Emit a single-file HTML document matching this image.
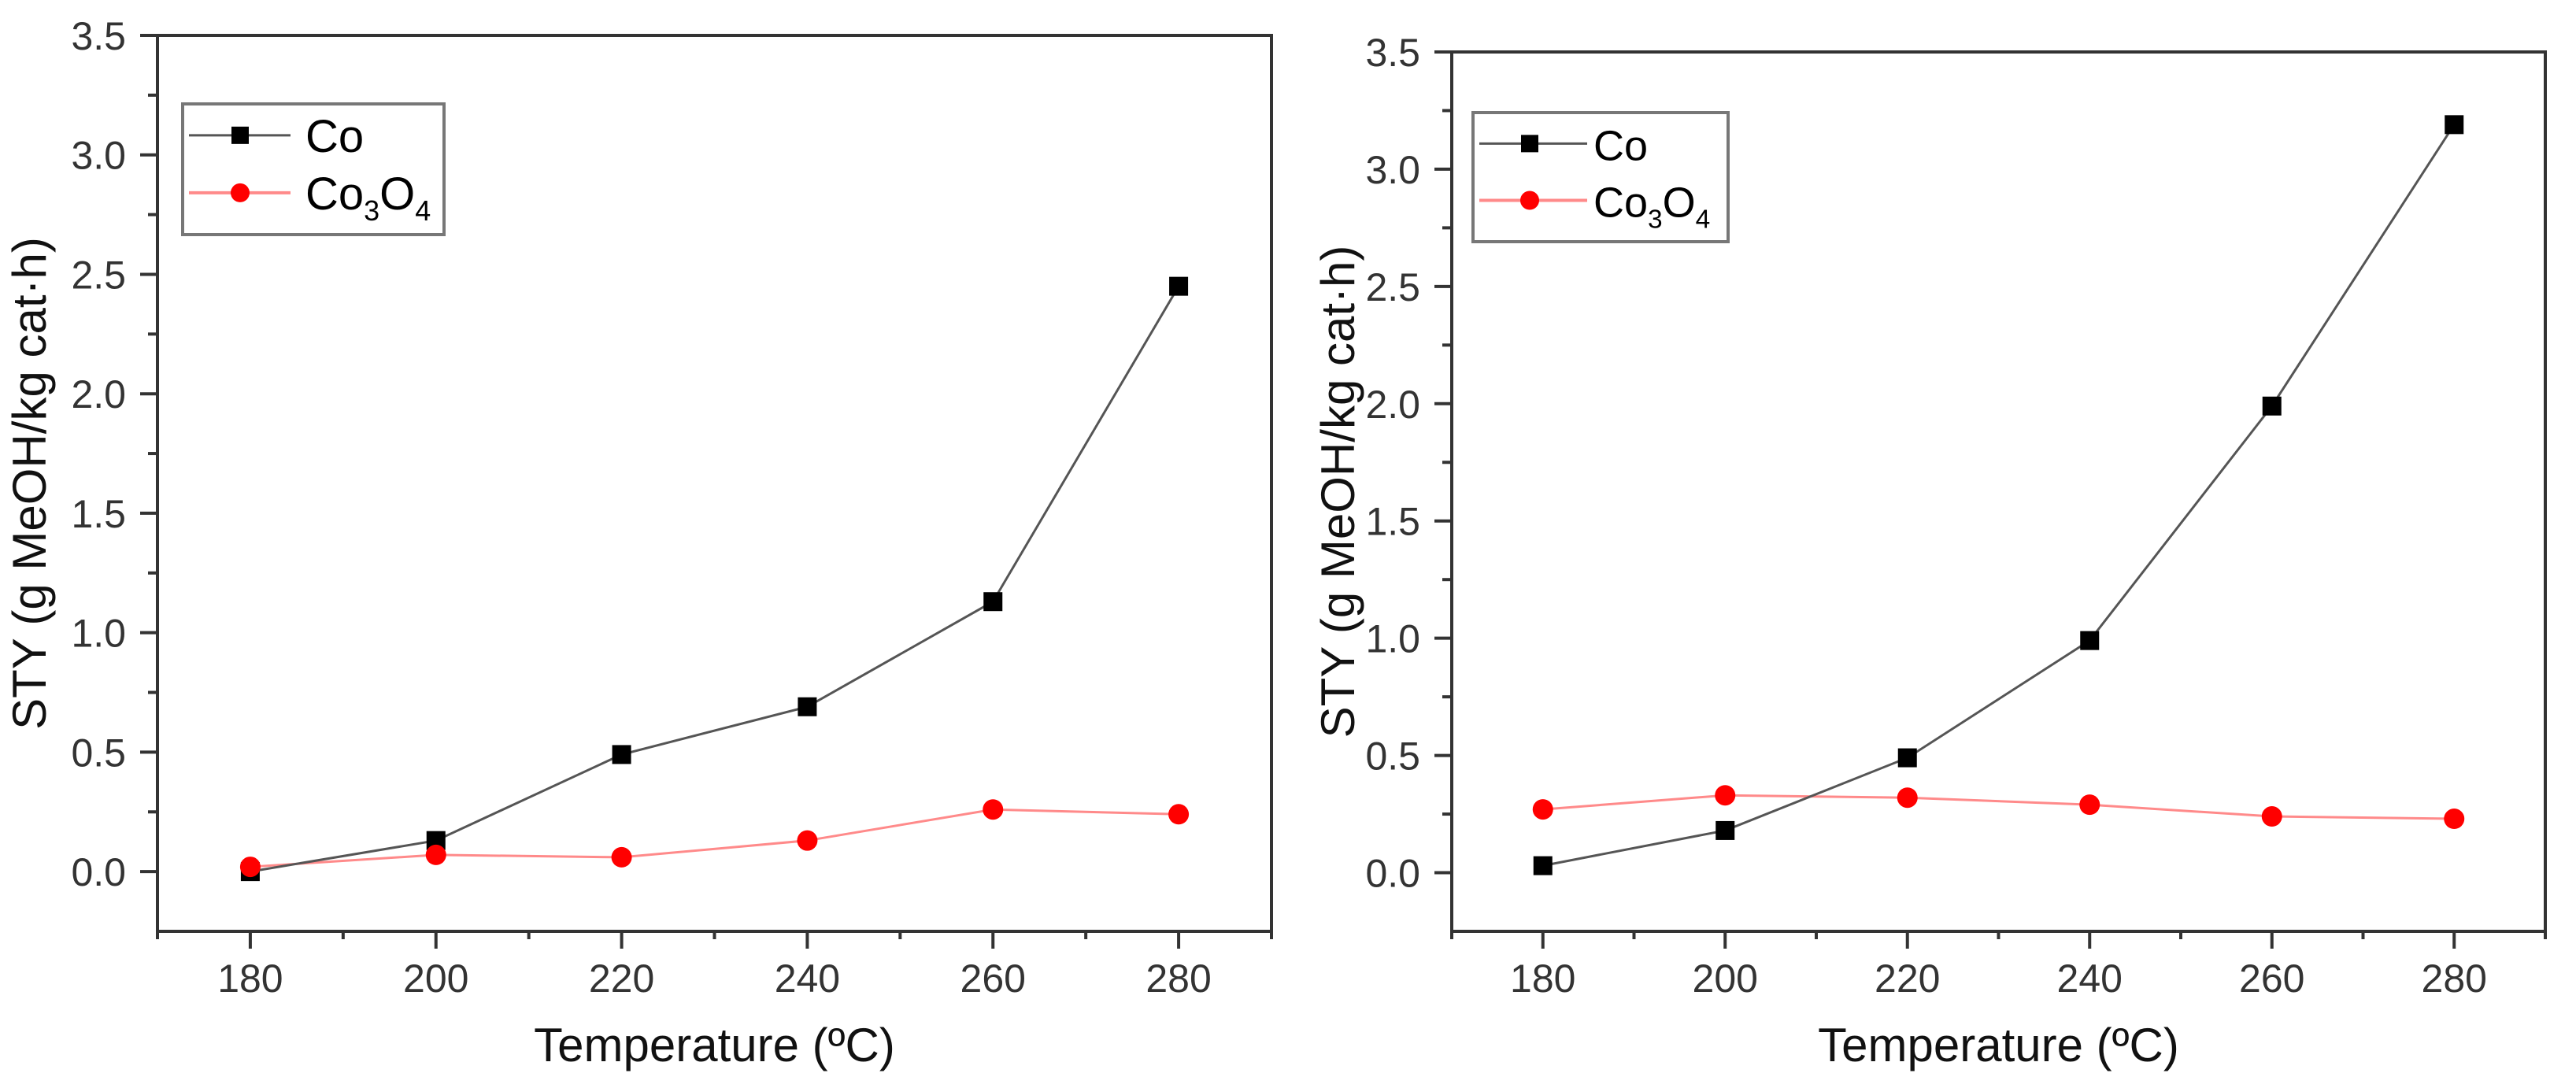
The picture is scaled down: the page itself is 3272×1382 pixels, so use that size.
<!DOCTYPE html>
<html><head><meta charset="utf-8"><style>
html,body{margin:0;padding:0;background:#fff;}
svg{display:block;font-family:"Liberation Sans",Arial,sans-serif;}
</style></head><body>
<svg id="chart" width="3272" height="1382" viewBox="0 0 3272 1382" xmlns="http://www.w3.org/2000/svg"></svg>
<script>
const temps = [180, 200, 220, 240, 260, 280];
const leftCo = [0.0, 0.13, 0.49, 0.69, 1.13, 2.45];
const leftCo3O4 = [0.02, 0.07, 0.06, 0.13, 0.26, 0.24];
const rightCo = [0.03, 0.18, 0.49, 0.99, 1.99, 3.19];
const rightCo3O4 = [0.27, 0.33, 0.32, 0.29, 0.24, 0.23];
const yTicks = ["0.0","0.5","1.0","1.5","2.0","2.5","3.0","3.5"];
const xTicks = ["180","200","220","240","260","280"];

const NS = "http://www.w3.org/2000/svg";
const svg = document.getElementById('chart');
function mk(tag, attrs, parent){
  const e = document.createElementNS(NS, tag);
  for (const k in attrs) e.setAttribute(k, attrs[k]);
  (parent||svg).appendChild(e);
  return e;
}

function panel(id, L, R, T, B, co, coo, leg, ytitleX){
  const g = mk('g', {});
  
  
  const xmin=170, xmax=290, ymin=-0.25, ymax=3.5;
  const sx = v => L + (v - xmin) / (xmax - xmin) * (R - L);
  const sy = v => B - (v - ymin) / (ymax - ymin) * (B - T);
  // ticks y
  for (let v = 0; v <= 3.5001; v += 0.25) {
    const major = Math.abs(v*2 - Math.round(v*2)) < 1e-6;
    const t = mk('line', {x1:L-(major?22:12), x2:L, y1:sy(v), y2:sy(v), stroke:'#333', 'stroke-width':4}, g);
    
    
  }
  yTicks.forEach(s => {
    const t = mk('text', {x:L-40, y:sy(parseFloat(s))+18, 'font-size':50, fill:'#333', 'text-anchor':'end'}, g);
    t.textContent = s;
    
    
  });
  // ticks x
  for (let v = 170; v <= 290; v += 10) {
    const major = (v - 180) % 20 === 0;
    const t = mk('line', {x1:sx(v), x2:sx(v), y1:B, y2:B+(major?22:10), stroke:'#333', 'stroke-width':4}, g);
    
    
  }
  xTicks.forEach(s => {
    const t = mk('text', {x:sx(parseFloat(s)), y:B+77, 'font-size':50, fill:'#333', 'text-anchor':'middle'}, g);
    t.textContent = s;
    
    
  });
  // frame
  const f = mk('rect', {x:L, y:T, width:R-L, height:B-T, fill:'none', stroke:'#333', 'stroke-width':4}, g);
  
  
  // titles
  const xt = mk('text', {x:(L+R)/2, y:B+165, 'font-size':60, fill:'#111', 'text-anchor':'middle'}, g);
  xt.textContent = 'Temperature (ºC)';
  
  
  const yt = mk('text', {x:0, y:0, 'font-size':60, fill:'#111', 'text-anchor':'middle', transform:`translate(${ytitleX},${(T+B)/2}) rotate(-90)`}, g);
  yt.textContent = 'STY (g MeOH/kg cat·h)';
  
  
  // series
  const pts = arr => arr.map((v,i) => sx(temps[i]) + ',' + sy(v)).join(' ');
  const l1 = mk('polyline', {points:pts(coo), fill:'none', stroke:'#ff8a8a', 'stroke-width':3}, g);
  
  
  const l2 = mk('polyline', {points:pts(co), fill:'none', stroke:'#555', 'stroke-width':3}, g);
  
  
  co.forEach((v,i) => {
    const m = mk('rect', {x:sx(temps[i])-12, y:sy(v)-12, width:24, height:24, fill:'#000'}, g);
    
    
  });
  coo.forEach((v,i) => {
    const m = mk('circle', {cx:sx(temps[i]), cy:sy(v), r:13, fill:'#ff0000'}, g);
    
    
  });
  // legend
  const lg = mk('g', {}, g);
  
  
  const lb = mk('rect', {x:leg.x, y:leg.y, width:leg.w, height:leg.h, fill:'#fff', stroke:'#777', 'stroke-width':4}, lg);
  
  
  const r1 = leg.y + leg.h*0.24, r2 = leg.y + leg.h*0.68;
  const e1 = mk('line', {x1:leg.x+8, x2:leg.x+leg.lw, y1:r1, y2:r1, stroke:'#555', 'stroke-width':3}, lg);
  
  
  const m1 = mk('rect', {x:leg.x+leg.mx-11, y:r1-11, width:22, height:22, fill:'#000'}, lg);
  
  
  const t1 = mk('text', {x:leg.x+leg.tx, y:r1+21, 'font-size':leg.fs, fill:'#000'}, lg);
  t1.textContent = 'Co';
  
  
  const e2 = mk('line', {x1:leg.x+8, x2:leg.x+leg.lw, y1:r2, y2:r2, stroke:'#ff8a8a', 'stroke-width':4}, lg);
  
  
  const m2 = mk('circle', {cx:leg.x+leg.mx, cy:r2, r:12, fill:'#ff0000'}, lg);
  
  
  const t2 = mk('text', {x:leg.x+leg.tx, y:r2+21, 'font-size':leg.fs, fill:'#000'}, lg);
  t2.innerHTML = 'Co<tspan dy="14" font-size="' + (leg.fs*0.62) + '">3</tspan><tspan dy="-14">O</tspan><tspan dy="14" font-size="' + (leg.fs*0.62) + '">4</tspan>';
  
  
}

panel('left', 200, 1615, 45, 1183, leftCo, leftCo3O4,
  {x:232, y:132, w:332, h:166, lw:137, mx:73, tx:156, fs:58}, 58);
panel('right', 1844, 3233, 66, 1183, rightCo, rightCo3O4,
  {x:1871, y:143, w:324, h:164, lw:145, mx:72, tx:153, fs:54}, 1720);
</script>
</body></html>
